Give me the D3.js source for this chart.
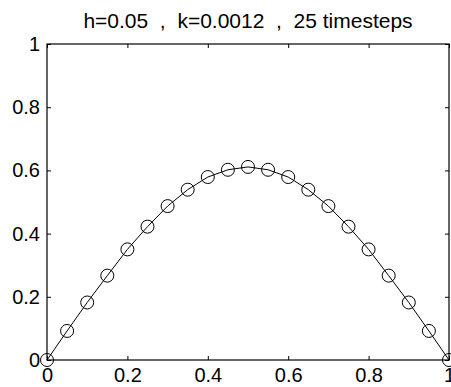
<!DOCTYPE html>
<html>
<head>
<meta charset="utf-8">
<script src="https://cdn.jsdelivr.net/npm/d3@7"></script>
<style>
  body { margin: 0; background: #fff; }
  text { font-family: "Liberation Sans", Arial, sans-serif; fill: #000; }
</style>
</head>
<body>
<div id="chart"></div>
<script>
const xValues = [0, 0.05, 0.1, 0.15, 0.2, 0.25, 0.3, 0.35, 0.4, 0.45, 0.5,
                 0.55, 0.6, 0.65, 0.7, 0.75, 0.8, 0.85, 0.9, 0.95, 1];
const uValues = [0, 0.092, 0.182, 0.267, 0.350, 0.422, 0.487, 0.539, 0.579, 0.602, 0.611,
                 0.602, 0.579, 0.539, 0.487, 0.422, 0.350, 0.267, 0.182, 0.092, 0];
const xTicks = [0, 0.2, 0.4, 0.6, 0.8, 1];
const yTicks = [0, 0.2, 0.4, 0.6, 0.8, 1];
const title = 'h=0.05  ,  k=0.0012  ,  25 timesteps';

const width = 451, height = 387;
const margin = {top: 44, right: 2, bottom: 27, left: 47};
const w = width - margin.left - margin.right, h = height - margin.top - margin.bottom;
const tickFont = '20px';

const svg = d3.select('#chart').append('svg')
    .attr('width', width)
    .attr('height', height);

const g = svg.append('g')
    .attr('transform', `translate(${margin.left},${margin.top})`);

const x = d3.scaleLinear().domain([0, 1]).range([0, w]);
const y = d3.scaleLinear().domain([0, 1]).range([h, 0]);

const fmt = d => d === 0 ? '0' : d === 1 ? '1' : d3.format('.1f')(d);

// axes with inward ticks (matlab box style)
g.append('g')
    .attr('transform', `translate(0,${h})`)
    .call(d3.axisBottom(x).tickValues(xTicks).tickFormat(fmt).tickSizeInner(-4).tickSizeOuter(0).tickPadding(8))
    .call(a => a.select('.domain').remove())
    .selectAll('text').style('font-size', tickFont);

g.append('g')
    .call(d3.axisLeft(y).tickValues(yTicks).tickFormat(fmt).tickSizeInner(-4).tickSizeOuter(0).tickPadding(7))
    .call(a => a.select('.domain').remove())
    .selectAll('text').style('font-size', tickFont);

g.append('g')
    .call(d3.axisTop(x).tickValues(xTicks).tickFormat('').tickSizeInner(-4).tickSizeOuter(0))
    .call(a => a.select('.domain').remove());

g.append('g')
    .attr('transform', `translate(${w},0)`)
    .call(d3.axisRight(y).tickValues(yTicks).tickFormat('').tickSizeInner(-4).tickSizeOuter(0))
    .call(a => a.select('.domain').remove());

g.selectAll('.tick line').attr('stroke', '#000');
g.selectAll('.tick text').attr('fill', '#000');

g.append('rect')
    .attr('x', 0).attr('y', 0)
    .attr('width', w).attr('height', h)
    .attr('fill', 'none')
    .attr('stroke', '#000')
    .attr('stroke-width', 1.2);

const pts = xValues.map((v, i) => ({x: v, u: uValues[i]}));

g.append('path')
    .datum(pts)
    .attr('fill', 'none')
    .attr('stroke', '#000')
    .attr('stroke-width', 1)
    .attr('d', d3.line().x(d => x(d.x)).y(d => y(d.u)));

g.selectAll('.pt')
    .data(pts)
    .join('circle')
    .attr('class', 'pt')
    .attr('cx', d => x(d.x))
    .attr('cy', d => y(d.u))
    .attr('r', 6.5)
    .attr('fill', 'none')
    .attr('stroke', '#000')
    .attr('stroke-width', 1);

svg.append('text')
    .attr('x', margin.left + w / 2)
    .attr('y', 28)
    .attr('text-anchor', 'middle')
    .style('font-size', '21px')
    .style('white-space', 'pre')
    .text(title);
</script>
</body>
</html>
